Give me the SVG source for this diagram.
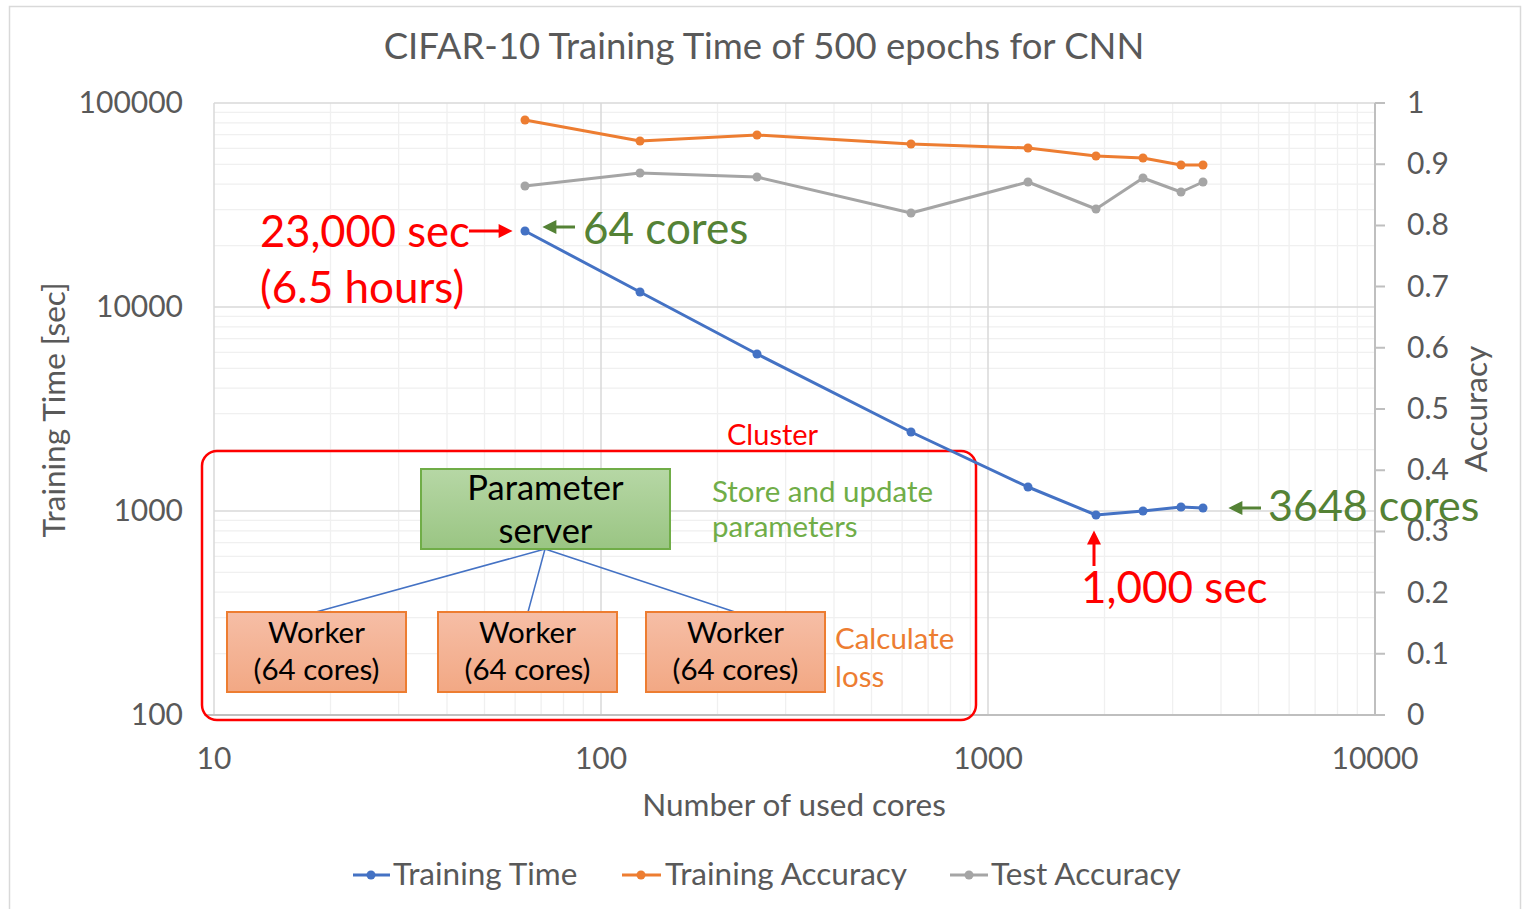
<svg xmlns="http://www.w3.org/2000/svg" width="1523" height="909" viewBox="0 0 1523 909">
<style>
text{font-family:Lato,"Open Sans","Liberation Sans",sans-serif}
.ax{fill:#595959;font-size:30px}
.at{fill:#595959;font-size:31.5px}
.minor{stroke:#f0f0f0;stroke-width:1.3;fill:none}
.major{stroke:#d9d9d9;stroke-width:1.5;fill:none}
.axis{stroke:#bfbfbf;stroke-width:2;fill:none}
.ser{fill:none;stroke-width:3;stroke-linejoin:round}
.box{font-size:34.5px;fill:#000}
.wk{font-size:29.5px;fill:#000}
.big{font-size:44px}
.red{fill:#ff0000}
.dg{fill:#548235}
.lg{fill:#70ad47;font-size:29.5px}
.or{fill:#ed7d31;font-size:29.5px}
.conn{stroke:#4472c4;stroke-width:1.5;fill:none}
</style>
<defs>
<linearGradient id="gG" x1="0" y1="0" x2="0" y2="1"><stop offset="0" stop-color="#b6d7a5"/><stop offset="1" stop-color="#9ac583"/></linearGradient>
<linearGradient id="gO" x1="0" y1="0" x2="0" y2="1"><stop offset="0" stop-color="#f6bea6"/><stop offset="1" stop-color="#f2a884"/></linearGradient>
<marker id="arR" viewBox="0 0 10 10" refX="2" refY="5" markerUnits="userSpaceOnUse" markerWidth="17" markerHeight="14" orient="auto"><path d="M0,0 L10,5 L0,10 z" fill="#ff0000"/></marker>
<marker id="arG" viewBox="0 0 10 10" refX="2" refY="5" markerUnits="userSpaceOnUse" markerWidth="17" markerHeight="14" orient="auto"><path d="M0,0 L10,5 L0,10 z" fill="#548235"/></marker>
</defs>
<rect x="0" y="0" width="1523" height="909" fill="#fff"/>
<rect x="9.5" y="6.5" width="1511" height="912" fill="none" stroke="#d9d9d9" stroke-width="1.5"/>
<text x="764" y="59" text-anchor="middle" style="font-size:36.5px;fill:#595959">CIFAR-10 Training Time of 500 epochs for CNN</text>

<g id="grid">
<path class="minor" d="M330.5,103V715M398.6,103V715M447,103V715M484.5,103V715M515.1,103V715M541.1,103V715M563.5,103V715M583.3,103V715M717.5,103V715M785.6,103V715M834,103V715M871.5,103V715M902.1,103V715M928.1,103V715M950.5,103V715M970.3,103V715M1104.5,103V715M1172.6,103V715M1221,103V715M1258.5,103V715M1289.1,103V715M1315.1,103V715M1337.5,103V715M1357.3,103V715"/>
<path class="minor" d="M214,653.6H1375M214,617.7H1375M214,592.2H1375M214,572.4H1375M214,556.3H1375M214,542.6H1375M214,530.8H1375M214,520.3H1375M214,449.6H1375M214,413.7H1375M214,388.2H1375M214,368.4H1375M214,352.3H1375M214,338.6H1375M214,326.8H1375M214,316.3H1375M214,245.6H1375M214,209.7H1375M214,184.2H1375M214,164.4H1375M214,148.3H1375M214,134.6H1375M214,122.8H1375M214,112.3H1375"/>
<path class="major" d="M214,103H1375M214,307H1375M214,511H1375M214,103V715M601,103V715M988,103V715"/>
<path class="axis" d="M1375,103V715M204,715H1385M1375,103H1385M1375,164.2H1385M1375,225.4H1385M1375,286.6H1385M1375,347.8H1385M1375,409H1385M1375,470.2H1385M1375,531.4H1385M1375,592.6H1385M1375,653.8H1385"/>
</g>

<g id="axes-labels">
<text class="ax" x="183" y="113" text-anchor="end">100000</text>
<text class="ax" x="183" y="317" text-anchor="end">10000</text>
<text class="ax" x="183" y="521" text-anchor="end">1000</text>
<text class="ax" x="183" y="725" text-anchor="end">100</text>
<text class="ax" x="1407" y="113">1</text>
<text class="ax" x="1407" y="174">0.9</text>
<text class="ax" x="1407" y="235">0.8</text>
<text class="ax" x="1407" y="297">0.7</text>
<text class="ax" x="1407" y="358">0.6</text>
<text class="ax" x="1407" y="419">0.5</text>
<text class="ax" x="1407" y="480">0.4</text>
<text class="ax" x="1407" y="541">0.3</text>
<text class="ax" x="1407" y="603">0.2</text>
<text class="ax" x="1407" y="664">0.1</text>
<text class="ax" x="1407" y="725">0</text>
<text class="ax" x="214" y="769" text-anchor="middle">10</text>
<text class="ax" x="601" y="769" text-anchor="middle">100</text>
<text class="ax" x="988" y="769" text-anchor="middle">1000</text>
<text class="ax" x="1375" y="769" text-anchor="middle">10000</text>
<text class="at" x="794" y="816" text-anchor="middle">Number of used cores</text>
<text class="at" transform="translate(65,410) rotate(-90)" text-anchor="middle">Training Time [sec]</text>
<text class="at" transform="translate(1487,409) rotate(-90)" text-anchor="middle">Accuracy</text>
</g>

<g id="cluster">
<rect x="202" y="451" width="774" height="269" rx="15" fill="none" stroke="#ff0000" stroke-width="2.5"/>
<text x="727" y="445" style="font-size:29px;fill:#ff0000">Cluster</text>
</g>

<g id="connectors">
<path class="conn" d="M545,549L316,612M545,549L528,612M545,549L735,612"/>
</g>

<g id="param-server">
<rect x="421" y="469" width="249" height="80" fill="url(#gG)" stroke="#70ad47" stroke-width="2"/>
<text class="box" x="545.5" y="500" text-anchor="middle">Parameter</text>
<text class="box" x="545.5" y="543" text-anchor="middle">server</text>
</g>
<g id="worker1">
<rect x="227" y="612" width="179" height="80" fill="url(#gO)" stroke="#ed7d31" stroke-width="2"/>
<text class="wk" x="316.5" y="643" text-anchor="middle">Worker</text>
<text class="wk" x="316.5" y="680" text-anchor="middle">(64 cores)</text>
</g>
<g id="worker2">
<rect x="438" y="612" width="179" height="80" fill="url(#gO)" stroke="#ed7d31" stroke-width="2"/>
<text class="wk" x="527.5" y="643" text-anchor="middle">Worker</text>
<text class="wk" x="527.5" y="680" text-anchor="middle">(64 cores)</text>
</g>
<g id="worker3">
<rect x="646" y="612" width="179" height="80" fill="url(#gO)" stroke="#ed7d31" stroke-width="2"/>
<text class="wk" x="735.5" y="643" text-anchor="middle">Worker</text>
<text class="wk" x="735.5" y="680" text-anchor="middle">(64 cores)</text>
</g>
<g id="role-labels">
<text class="lg" x="712" y="502">Store and update</text>
<text class="lg" x="712" y="537">parameters</text>
<text class="or" x="835" y="649">Calculate</text>
<text class="or" x="835" y="687">loss</text>
</g>

<g id="series-test" fill="#a5a5a5">
<polyline class="ser" stroke="#a5a5a5" points="525,186 640,173 757,177 911,213 1028,182 1096,209 1143,178 1181,192 1203,182"/>
<circle cx="525" cy="186" r="4.5"/><circle cx="640" cy="173" r="4.5"/><circle cx="757" cy="177" r="4.5"/><circle cx="911" cy="213" r="4.5"/><circle cx="1028" cy="182" r="4.5"/><circle cx="1096" cy="209" r="4.5"/><circle cx="1143" cy="178" r="4.5"/><circle cx="1181" cy="192" r="4.5"/><circle cx="1203" cy="182" r="4.5"/>
</g>
<g id="series-trainacc" fill="#ed7d31">
<polyline class="ser" stroke="#ed7d31" points="525,120 640,141 757,135 911,144 1028,148 1096,156 1143,158 1181,165 1203,165"/>
<circle cx="525" cy="120" r="4.5"/><circle cx="640" cy="141" r="4.5"/><circle cx="757" cy="135" r="4.5"/><circle cx="911" cy="144" r="4.5"/><circle cx="1028" cy="148" r="4.5"/><circle cx="1096" cy="156" r="4.5"/><circle cx="1143" cy="158" r="4.5"/><circle cx="1181" cy="165" r="4.5"/><circle cx="1203" cy="165" r="4.5"/>
</g>
<g id="series-time" fill="#4472c4">
<polyline class="ser" stroke="#4472c4" points="525,231 640,292 757,354 911,432 1028,487 1096,515 1143,511 1181,507 1203,508"/>
<circle cx="525" cy="231" r="4.5"/><circle cx="640" cy="292" r="4.5"/><circle cx="757" cy="354" r="4.5"/><circle cx="911" cy="432" r="4.5"/><circle cx="1028" cy="487" r="4.5"/><circle cx="1096" cy="515" r="4.5"/><circle cx="1143" cy="511" r="4.5"/><circle cx="1181" cy="507" r="4.5"/><circle cx="1203" cy="508" r="4.5"/>
</g>

<g id="annotations">
<text class="big red" x="260" y="247" style="font-size:43.5px">23,000 sec</text>
<text class="big red" x="260" y="303">(6.5 hours)</text>
<line x1="469" y1="231" x2="501.4" y2="231" stroke="#ff0000" stroke-width="3" marker-end="url(#arR)"/>
<line x1="575" y1="227" x2="553.6" y2="227" stroke="#548235" stroke-width="3" marker-end="url(#arG)"/>
<text class="big dg" x="583" y="244">64 cores</text>
<line x1="1094" y1="566" x2="1094" y2="541.6" stroke="#ff0000" stroke-width="3" marker-end="url(#arR)"/>
<text class="big red" x="1081" y="603">1,000 sec</text>
<line x1="1261" y1="508" x2="1239.6" y2="508" stroke="#548235" stroke-width="3" marker-end="url(#arG)"/>
<text class="big dg" x="1268" y="521" style="font-size:43px">3648 cores</text>
</g>

<g id="legend">
<line x1="353" y1="875" x2="390" y2="875" stroke="#4472c4" stroke-width="3"/><circle cx="371" cy="875" r="4.5" fill="#4472c4"/>
<text class="at" x="393" y="885">Training Time</text>
<line x1="622" y1="875" x2="661" y2="875" stroke="#ed7d31" stroke-width="3"/><circle cx="641" cy="875" r="4.5" fill="#ed7d31"/>
<text class="at" x="665" y="885">Training Accuracy</text>
<line x1="950" y1="875" x2="988" y2="875" stroke="#a5a5a5" stroke-width="3"/><circle cx="969" cy="875" r="4.5" fill="#a5a5a5"/>
<text class="at" x="991" y="885">Test Accuracy</text>
</g>
</svg>
